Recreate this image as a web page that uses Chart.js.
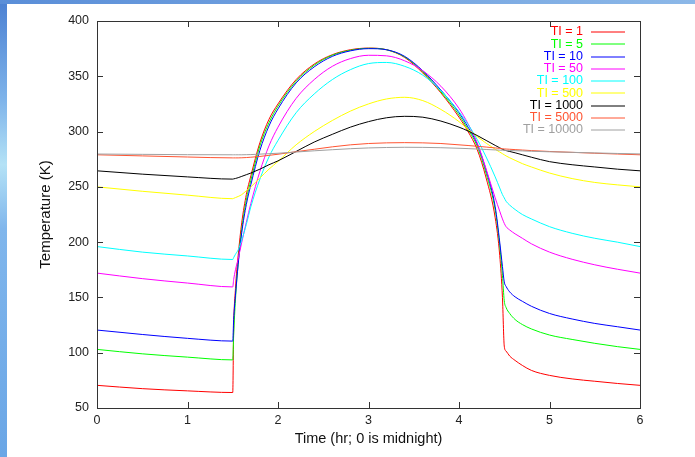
<!DOCTYPE html>
<html>
<head>
<meta charset="utf-8">
<script src="https://cdn.jsdelivr.net/npm/chart.js@4.4.0/dist/chart.umd.min.js"></script>
<style>
  html, body { margin: 0; padding: 0; background: #fff; }
  canvas { display: block; }
</style>
</head>
<body>
<canvas id="myChart" width="695" height="457"></canvas>
<script>
// time in hours (0 is midnight), denser where the curves turn sharply
const hours = [0, 0.5, 1, 1.5, 1.51, 1.53, 1.56, 1.6, 1.65, 1.7, 1.8, 1.9, 2, 2.2, 2.4, 2.6, 2.8, 3, 3.2, 3.4,
               3.6, 3.8, 4, 4.1, 4.2, 4.3, 4.4, 4.45, 4.48, 4.5, 4.52, 4.56, 4.62, 4.7, 4.8, 5, 5.25, 5.5, 5.75, 6];

// temperature (K) for each thermal inertia
const ti1 = [70.5, 67.5, 65.5, 64, 122, 158, 188, 218, 243, 260, 290, 311, 325, 347, 361, 369.5, 374, 375.5, 374, 367,
             353, 335, 313, 300, 284, 258, 222, 188, 150, 106, 101.5, 97, 93, 88.5, 84, 79.5, 76.3, 74.2, 72.2, 70.5];
const ti5 = [103, 99, 96, 93.5, 116, 148, 181, 212, 238, 256, 287, 308, 323, 345.5, 360, 369, 373.5, 375.3, 374, 367.5,
             354, 336, 315, 302, 287, 262, 229, 197, 170, 147, 141, 135.5, 130, 125.5, 121.5, 116, 112, 108.5, 105.5, 103];
const ti10 = [120.5, 116.5, 113, 110.5, 130, 152, 180, 209, 234, 252, 283, 305, 320.5, 344, 358.5, 368, 373, 375, 374, 368,
              355, 337.5, 317, 304, 289, 265, 232, 200, 178, 164, 160, 155, 150.5, 146.5, 142, 135.5, 130.5, 126.5, 123.5, 120.5];
const ti50 = [172, 167, 163, 159.5, 166, 175, 185, 200, 218, 235, 264, 287, 304, 330, 347, 359, 366, 369, 368.5, 364,
              355, 341, 321, 307, 290, 266, 240, 228, 221, 217, 214, 211, 207.5, 203.5, 198.5, 191, 184.5, 179.5, 175.5, 172];
const ti100 = [196, 191, 187.5, 184.3, 186, 189, 193, 202, 216, 232, 257, 277, 292, 317, 334, 347, 356, 361.5, 362.5, 359,
               351, 337, 318, 306.5, 293, 277, 259, 249, 243, 240, 237, 233.5, 229.5, 225, 221, 214, 208, 203.5, 200, 196];
const ti500 = [250, 246, 242.5, 239.3, 239.6, 240.3, 241.3, 243, 246.5, 250, 258, 266, 273, 288, 300, 310, 318.5, 325, 329.5, 331,
               328, 320, 309, 302, 295.5, 289.5, 284, 281.5, 280, 279, 278, 276.3, 274, 271, 268, 262.5, 257.5, 254, 251.8, 250];
const ti1000 = [264.5, 261.5, 259, 257, 257.2, 257.6, 258.3, 259.5, 261, 262.5, 266, 270, 273.5, 282, 290.5, 297.5, 304, 309, 312.5, 313.8,
                313, 309.5, 304, 300.5, 296.5, 292, 287.5, 285.3, 284, 283.3, 282.8, 282, 280.8, 279, 276.8, 272.8, 270, 268, 266, 264.5];
const ti5000 = [279, 278, 277, 276.2, 276.2, 276.2, 276.2, 276.3, 276.5, 276.8, 277.5, 278.5, 279.5, 281.8, 284, 286.2, 288, 289.2, 289.8, 290,
                289.8, 289.2, 288, 287.4, 286.7, 286, 285.2, 284.8, 284.5, 284.3, 284.2, 284, 283.7, 283.3, 282.8, 282, 281.2, 280.4, 279.7, 279];
const ti10000 = [279.7, 279.4, 279.1, 279, 279, 279, 279, 279, 279.1, 279.2, 279.6, 280, 280.4, 281.5, 282.6, 283.6, 284.5, 285.2, 285.6, 285.8,
                 285.7, 285.4, 284.9, 284.6, 284.2, 283.8, 283.4, 283.2, 283.1, 283, 283, 282.9, 282.7, 282.5, 282.2, 281.7, 281.2, 280.7, 280.2, 279.8];

const seriesLabels = ['TI = 1', 'TI = 5', 'TI = 10', 'TI = 50', 'TI = 100', 'TI = 500', 'TI = 1000', 'TI = 5000', 'TI = 10000'];
const seriesValues = [ti1, ti5, ti10, ti50, ti100, ti500, ti1000, ti5000, ti10000];
const seriesColors = ['#ff0000', '#00ff00', '#0000ff', '#ff00ff', '#00ffff', '#ffff00', '#000000', '#ff5533', '#a0a0a0'];

const xTicks = [0, 1, 2, 3, 4, 5, 6];
const yTicks = [50, 100, 150, 200, 250, 300, 350, 400];

const fontFamily = "'Liberation Sans', Arial, sans-serif";

const datasets = seriesValues.map((values, i) => ({
    label: seriesLabels[i],
    data: values.map((v, j) => ({x: hours[j], y: v})),
    borderColor: seriesColors[i],
    backgroundColor: seriesColors[i],
    borderWidth: 1,
    pointRadius: 0,
    fill: false,
    cubicInterpolationMode: 'monotone',
    order: seriesValues.length - i
}));

// gnuplot look: slide background, boxed frame with inward ticks, key at top right
const gnuplotLook = {
    id: 'gnuplotLook',
    beforeDraw(chart) {
        const ctx = chart.ctx;
        ctx.save();
        ctx.fillStyle = '#ffffff';
        ctx.fillRect(0, 0, chart.width, chart.height);
        let side = ctx.createLinearGradient(0, 0, 0, chart.height);
        side.addColorStop(0, '#4b80d2');
        side.addColorStop(0.22, '#7fb4ea');
        side.addColorStop(0.36, '#b4e2f6');
        side.addColorStop(0.5, '#80b6ec');
        side.addColorStop(1, '#6aa6e6');
        ctx.fillStyle = side;
        ctx.fillRect(0, 0, 7, chart.height);
        let top = ctx.createLinearGradient(0, 0, chart.width, 0);
        top.addColorStop(0, '#5a8ed8');
        top.addColorStop(1, '#8cb8e8');
        ctx.fillStyle = top;
        ctx.fillRect(0, 0, chart.width, 4);
        ctx.restore();
    },
    afterDatasetsDraw(chart) {
        const {ctx, chartArea: a, scales} = chart;
        const tick = 6;
        ctx.save();
        ctx.strokeStyle = '#333333';
        ctx.lineWidth = 1;
        ctx.strokeRect(a.left + 0.5, a.top + 0.5, a.right - a.left, a.bottom - a.top);
        ctx.beginPath();
        xTicks.forEach(t => {
            const px = Math.round(scales.x.getPixelForValue(t)) + 0.5;
            ctx.moveTo(px, a.bottom); ctx.lineTo(px, a.bottom - tick);
            ctx.moveTo(px, a.top); ctx.lineTo(px, a.top + tick);
        });
        yTicks.forEach(t => {
            const py = Math.round(scales.y.getPixelForValue(t)) + 0.5;
            ctx.moveTo(a.left, py); ctx.lineTo(a.left + tick, py);
            ctx.moveTo(a.right, py); ctx.lineTo(a.right - tick, py);
        });
        ctx.stroke();

        // key, samples drawn on pixel edges so they look soft like the original
        ctx.font = '12.5px ' + fontFamily;
        ctx.textAlign = 'right';
        ctx.textBaseline = 'middle';
        const lineEnd = a.right - 15;
        const lineStart = lineEnd - 34;
        chart.data.datasets.forEach((ds, i) => {
            const y = a.top + 11 + i * 12.25;
            ctx.fillStyle = ds.borderColor;
            ctx.fillText(ds.label, lineStart - 8, y);
            ctx.strokeStyle = ds.borderColor;
            ctx.beginPath();
            ctx.moveTo(lineStart, Math.round(y));
            ctx.lineTo(lineEnd, Math.round(y));
            ctx.stroke();
        });
        ctx.restore();
    }
};

const config = {
    type: 'line',
    data: {datasets: datasets},
    options: {
        responsive: false,
        animation: false,
        layout: {padding: {top: 21, right: 55, left: 0, bottom: 0}},
        plugins: {
            legend: {display: false},
            tooltip: {enabled: false}
        },
        scales: {
            x: {
                type: 'linear',
                min: 0,
                max: 6,
                afterFit: scale => { scale.height = 49; },
                afterBuildTicks: scale => { scale.ticks = xTicks.map(v => ({value: v})); },
                grid: {display: false, drawTicks: false},
                border: {display: false},
                ticks: {color: '#222', padding: 5, font: {family: fontFamily, size: 12.5}},
                title: {
                    display: true,
                    text: 'Time (hr; 0 is midnight)',
                    color: '#111',
                    font: {family: fontFamily, size: 14.5},
                    padding: {top: 0, bottom: 9}
                }
            },
            y: {
                type: 'linear',
                min: 50,
                max: 400,
                afterFit: scale => { scale.width = 97; },
                afterBuildTicks: scale => { scale.ticks = yTicks.map(v => ({value: v})); },
                grid: {display: false, drawTicks: false},
                border: {display: false},
                ticks: {color: '#222', padding: 8, font: {family: fontFamily, size: 12.5}},
                title: {
                    display: true,
                    text: 'Temperature (K)',
                    color: '#111',
                    font: {family: fontFamily, size: 15},
                    padding: {top: 37, bottom: 0}
                }
            }
        }
    },
    plugins: [gnuplotLook]
};

const myChart = new Chart(document.getElementById('myChart'), config);
</script>
</body>
</html>
